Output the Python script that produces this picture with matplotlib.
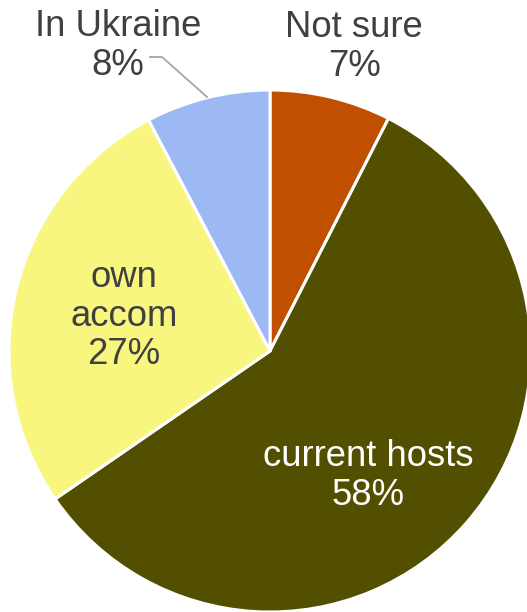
import matplotlib.pyplot as plt

labels = ['Not sure', 'current hosts', 'own\naccom', 'In Ukraine']
values = [7.5, 57.9, 26.9, 7.7]
pct_text = ['7%', '58%', '27%', '8%']
colors = ['#C05000', '#525000', '#F9F67F', '#9DB9F3']

W, H = 527, 612
fig = plt.figure(figsize=(W / 100, H / 100), dpi=100)
ax = fig.add_axes([0, 0, 1, 1])

cx, cy, r = 270, H - 351, 261
ax.pie(values, colors=colors, startangle=90, counterclock=False,
       center=(cx, cy), radius=r, frame=True,
       wedgeprops=dict(edgecolor='white', linewidth=2.2))
ax.set_xlim(0, W)
ax.set_ylim(0, H)
ax.set_aspect('equal')
ax.axis('off')

font = dict(family=['Liberation Sans', 'DejaVu Sans'], fontsize=26.3,
            ha='center', va='center', linespacing=1.12)

# label positions in pixel coords (from top)
pos = [(354, 47), (368, 476), (124, 316), (118, 46)]
txt_col = ['#404040', 'white', '#404040', '#404040']
for lab, p, (x, y), c in zip(labels, pct_text, pos, txt_col):
    ax.text(x, H - y, lab + '\n' + p, color=c, **font)

# leader line for In Ukraine
ax.plot([150, 162, 207], [H - 57, H - 57, H - 97], color='#A6A6A6', lw=1.3)

fig.savefig('out.png', dpi=100)
